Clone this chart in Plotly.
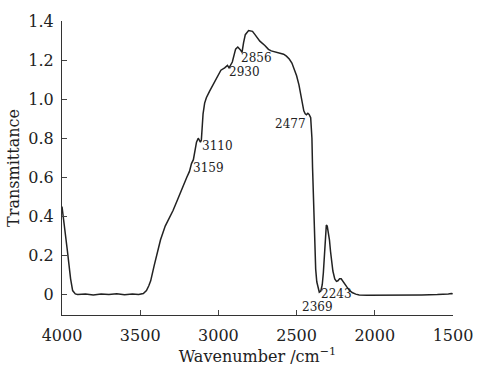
import plotly.graph_objects as go

wavenumber = [4000, 3985, 3965, 3945, 3932, 3915, 3900, 3850, 3800, 3750, 3700, 3650, 3600, 3550, 3510, 3480,
              3460, 3445, 3433, 3410, 3390, 3370, 3340, 3308, 3290, 3264, 3230, 3202, 3185, 3172, 3160, 3150,
              3140, 3129, 3122, 3115, 3109, 3098, 3088, 3077, 3057, 3015, 2984, 2960, 2942, 2932, 2911, 2890,
              2876, 2859, 2849, 2839, 2828, 2807, 2782, 2766, 2750, 2735, 2703, 2680, 2662, 2640, 2620, 2600,
              2583, 2565, 2547, 2530, 2516, 2500, 2485, 2470, 2454, 2445, 2437, 2428, 2420, 2410, 2402, 2398,
              2394, 2390, 2384, 2378, 2371, 2362, 2355, 2345, 2336, 2329, 2322, 2316, 2310, 2304, 2297, 2290,
              2283, 2277, 2268, 2256, 2245, 2236, 2225, 2215, 2205, 2194, 2180, 2163, 2145, 2122, 2100, 2050,
              2000, 1900, 1800, 1700, 1600, 1550, 1530, 1510, 1502]
transmittance = [0.45, 0.36, 0.22, 0.08, 0.02, 0.003, 0.0, 0.002, -0.002, 0.003, 0.0, 0.004, -0.001, 0.002, 0.0, 0.005,
                 0.02, 0.045, 0.07, 0.15, 0.21, 0.28, 0.35, 0.40, 0.43, 0.48, 0.55, 0.60, 0.63, 0.67, 0.69, 0.73,
                 0.78, 0.80, 0.79, 0.78, 0.79, 0.925, 0.98, 1.007, 1.04, 1.107, 1.148, 1.16, 1.173, 1.16, 1.19, 1.256,
                 1.267, 1.252, 1.239, 1.289, 1.33, 1.351, 1.347, 1.33, 1.31, 1.297, 1.275, 1.255, 1.247, 1.242, 1.24, 1.236,
                 1.23, 1.22, 1.205, 1.185, 1.156, 1.12, 1.073, 1.01, 0.94, 0.925, 0.92, 0.928, 0.922, 0.905, 0.80, 0.65,
                 0.52, 0.40, 0.25, 0.13, 0.065, 0.025, 0.012, 0.018, 0.05, 0.11, 0.22, 0.31, 0.355, 0.35, 0.32, 0.28,
                 0.22, 0.17, 0.12, 0.08, 0.067, 0.07, 0.08, 0.08, 0.07, 0.06, 0.04, 0.022, 0.01, 0.002, -0.003, -0.004,
                 -0.004, -0.003, -0.003, -0.002, 0.0, 0.0, 0.003, 0.005, 0.004]

x_ticks = [4000, 3500, 3000, 2500, 2000, 1500]
y_ticks = [0, 0.2, 0.4, 0.6, 0.8, 1.0, 1.2, 1.4]
y_ticktext = ["0", "0.2", "0.4", "0.6", "0.8", "1.0", "1.2", "1.4"]

peak_labels = ["3159", "3110", "2930", "2856", "2477", "2243", "2369"]
peak_x = [3170, 3109, 2938, 2859, 2435, 2350, 2471]
peak_y = [0.645, 0.76, 1.14, 1.21, 0.875, 0.0, -0.066]
peak_anchor = ["left", "left", "left", "left", "right", "left", "left"]

FONT = "'DejaVu Serif', serif"
INK = "#222222"

fig = go.Figure()
fig.add_trace(go.Scatter(x=wavenumber, y=transmittance, mode="lines",
                         line=dict(color=INK, width=1.5), showlegend=False))

for t, x, y, a in zip(peak_labels, peak_x, peak_y, peak_anchor):
    fig.add_annotation(x=x, y=y, text=t, showarrow=False, xanchor=a, yanchor="middle",
                       font=dict(family=FONT, size=12, color=INK), borderpad=0)

fig.update_layout(
    width=485, height=370,
    margin=dict(l=62, r=22, t=21, b=46),
    paper_bgcolor="white", plot_bgcolor="white",
    font=dict(family=FONT, color=INK),
    xaxis=dict(range=[4000, 1500], tickvals=x_ticks, ticks="inside", ticklen=5,
               showline=True, linecolor="#333333", linewidth=1.2, showgrid=False, zeroline=False,
               tickfont=dict(family=FONT, size=16, color=INK), ticklabelstandoff=6,
               title=dict(text="Wavenumber /cm<sup>−1</sup>", font=dict(family=FONT, size=16, color=INK), standoff=2)),
    yaxis=dict(range=[-0.105, 1.4], tickvals=y_ticks, ticktext=y_ticktext, ticks="inside", ticklen=5,
               showline=True, linecolor="#333333", linewidth=1.2, showgrid=False, zeroline=False,
               tickfont=dict(family=FONT, size=16, color=INK), ticklabelstandoff=4,
               title=dict(text="Transmittance", font=dict(family=FONT, size=16, color=INK), standoff=4)),
)

fig.write_html("out.html")
